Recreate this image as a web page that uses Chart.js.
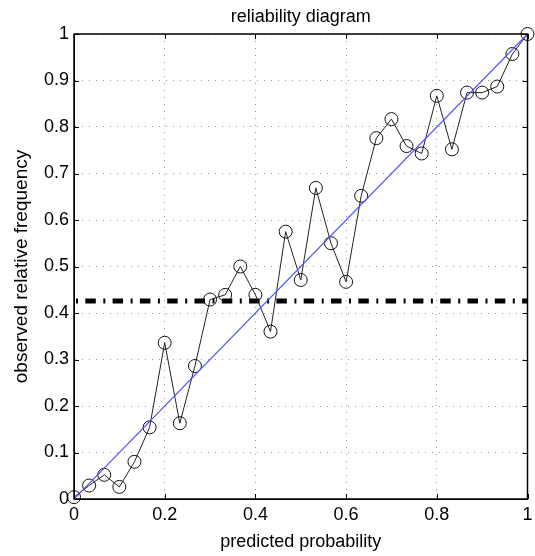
<!DOCTYPE html>
<html>
<head>
<meta charset="utf-8">
<script src="https://cdn.jsdelivr.net/npm/chart.js@4.4.1/dist/chart.umd.min.js"></script>
<style>
  html, body { margin: 0; padding: 0; background: #fff; }
  #wrap { width: 535px; height: 556px; }
</style>
</head>
<body>
<div id="wrap"><canvas id="chart" width="535" height="556"></canvas></div>
<script>
// данные: прогнозируемая вероятность (бины) и наблюдаемая частота
const predicted = [0, 0.0333, 0.0667, 0.1, 0.1333, 0.1667, 0.2, 0.2333, 0.2667, 0.3,
    0.3333, 0.3667, 0.4, 0.4333, 0.4667, 0.5, 0.5333, 0.5667, 0.6, 0.6333,
    0.6667, 0.7, 0.7333, 0.7667, 0.8, 0.8333, 0.8667, 0.9, 0.9333, 0.9667, 1];
const observed = [0.004, 0.029, 0.052, 0.026, 0.080, 0.154, 0.336, 0.163, 0.286, 0.429,
    0.439, 0.500, 0.439, 0.360, 0.575, 0.471, 0.669, 0.550, 0.467, 0.652,
    0.776, 0.817, 0.759, 0.743, 0.867, 0.752, 0.874, 0.874, 0.887, 0.957, 1.0];

// линия идеальной надёжности
const diagonalX = [0, 1];
const diagonalY = [0, 1];

// климатология (горизонтальная линия)
const climateX = [0, 1];
const climateY = [0.426, 0.426];

const xTicks = [0, 0.2, 0.4, 0.6, 0.8, 1];
const yTicks = [0, 0.1, 0.2, 0.3, 0.4, 0.5, 0.6, 0.7, 0.8, 0.9, 1];

const FONT = 'Liberation Sans, Arial, Helvetica, sans-serif';

function pairs(xs, ys) {
    return xs.map((x, i) => ({ x: x, y: ys[i] }));
}

// рамка и внутренние засечки как в MATLAB
const boxPlugin = {
    id: 'boxTicks',
    afterDraw(chart) {
        const { ctx, chartArea: a, scales } = chart;
        const len = 5;
        ctx.save();
        ctx.strokeStyle = '#000';
        ctx.lineWidth = 1;
        ctx.beginPath();
        xTicks.forEach(v => {
            const px = Math.round(scales.x.getPixelForValue(v)) + 0.5;
            ctx.moveTo(px, a.bottom); ctx.lineTo(px, a.bottom - len);
            ctx.moveTo(px, a.top); ctx.lineTo(px, a.top + len);
        });
        yTicks.forEach(v => {
            const py = Math.round(scales.y.getPixelForValue(v)) + 0.5;
            ctx.moveTo(a.left, py); ctx.lineTo(a.left + len, py);
            ctx.moveTo(a.right, py); ctx.lineTo(a.right - len, py);
        });
        ctx.stroke();
        ctx.lineWidth = 1.5;
        ctx.strokeRect(a.left, a.top, a.right - a.left, a.bottom - a.top);
        ctx.restore();
    }
};

const ctx = document.getElementById('chart');

new Chart(ctx, {
    type: 'scatter',
    data: {
        datasets: [
            {
                label: 'perfect',
                data: pairs(diagonalX, diagonalY),
                showLine: true,
                borderColor: '#4f4fff',
                borderWidth: 1.2,
                pointRadius: 0,
                fill: false
            },
            {
                label: 'observed',
                data: pairs(predicted, observed),
                showLine: true,
                clip: false,
                borderColor: '#222',
                borderWidth: 1,
                pointRadius: 6.5,
                pointStyle: 'circle',
                pointBorderColor: '#111',
                pointBorderWidth: 1,
                pointBackgroundColor: 'rgba(0,0,0,0)',
                fill: false
            },
            {
                label: 'climatology',
                data: pairs(climateX, climateY),
                showLine: true,
                borderColor: '#000',
                borderWidth: 5,
                borderDash: [10.5, 7.5, 2, 7.3],
                borderDashOffset: 16,
                pointRadius: 0,
                fill: false
            }
        ]
    },
    options: {
        responsive: false,
        animation: false,
        layout: { padding: { left: 0, right: 2.5, top: 0, bottom: 0 } },
        plugins: {
            legend: { display: false },
            tooltip: { enabled: false },
            title: {
                display: true,
                text: 'reliability diagram',
                fullSize: false,
                color: '#000',
                font: { family: FONT, size: 18, weight: 'normal' },
                padding: { top: 6, bottom: 6.4 }
            }
        },
        scales: {
            x: {
                type: 'linear',
                min: 0,
                max: 1,
                afterFit(scale) {
                    scale.height = 57;
                    scale.paddingLeft = 0;
                    scale.paddingRight = 0;
                },
                afterBuildTicks(scale) { scale.ticks = xTicks.map(v => ({ value: v })); },
                ticks: {
                    color: '#000',
                    padding: 5,
                    maxRotation: 0,
                    font: { family: FONT, size: 18 },
                    callback: v => String(v)
                },
                grid: { color: '#999', lineWidth: 1, drawTicks: false },
                border: { display: true, color: '#000', width: 1, dash: [1, 6] },
                title: {
                    display: true,
                    text: 'predicted probability',
                    color: '#000',
                    font: { family: FONT, size: 18 },
                    padding: { top: 0, bottom: 3 }
                }
            },
            y: {
                type: 'linear',
                min: 0,
                max: 1,
                afterFit(scale) {
                    scale.width = 74;
                    scale.paddingTop = 0;
                    scale.paddingBottom = 0;
                },
                afterBuildTicks(scale) { scale.ticks = yTicks.map(v => ({ value: v })); },
                ticks: {
                    color: '#000',
                    padding: 5,
                    font: { family: FONT, size: 18 },
                    callback: v => String(v)
                },
                grid: { color: '#999', lineWidth: 1, drawTicks: false },
                border: { display: true, color: '#000', width: 1, dash: [1, 6] },
                title: {
                    display: true,
                    text: 'observed relative frequency',
                    color: '#000',
                    font: { family: FONT, size: 19 },
                    padding: { top: 10, bottom: 0 }
                }
            }
        }
    },
    plugins: [boxPlugin]
});
</script>
</body>
</html>
